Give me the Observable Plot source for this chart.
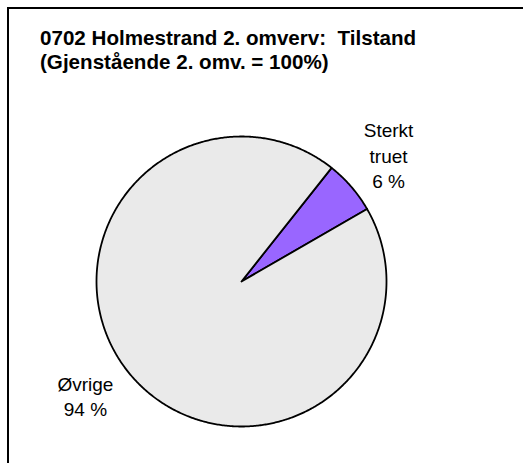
<!DOCTYPE html>
<html><head><meta charset="utf-8">
<script src="https://cdn.jsdelivr.net/npm/d3@7"></script>
<script src="https://cdn.jsdelivr.net/npm/@observablehq/plot@0.6"></script>
<style>
body{margin:0;background:#fff;}
#wrap{position:relative;width:532px;height:463px;overflow:hidden;font-family:"Liberation Sans",Arial,sans-serif;}
#frame{position:absolute;left:7px;top:7px;width:514px;height:470px;border-top:2px solid #000;border-left:2px solid #000;}
#title{position:absolute;left:40px;top:26px;font-weight:bold;font-size:20.6px;line-height:24px;white-space:pre;color:#000;}
#chart{position:absolute;left:0;top:0;}
</style></head><body>
<div id="wrap"><div id="frame"></div><div id="chart"></div><div id="title"></div></div>
<script>
const categories = ["Sterkt truet", "Øvrige"];
const values = [6, 94];
const labelNames = ["Sterkt\ntruet", "Øvrige"];
const labelValues = ["6 %", "94 %"];
const colors = ["#9966FF", "#EAEAEA"];
const titleLines = ["0702 Holmestrand 2. omverv:  Tilstand", "(Gjenstående 2. omv. = 100%)"];
const firstSliceAngle = 38.4; // degrees, clockwise from 12 o'clock

document.getElementById("title").textContent = titleLines.join("\n");

const total = d3.sum(values);
const polys = [];
const labelRows = [];
let a = firstSliceAngle * Math.PI / 180;
categories.forEach((c, i) => {
  const span = values[i] / total * 2 * Math.PI;
  const a0 = a, a1 = a + span;
  polys.push({category: c, x: 0, y: 0});
  const n = Math.max(2, Math.ceil(span / (Math.PI / 360)));
  for (let k = 0; k <= n; k++) {
    const t = a0 + (a1 - a0) * k / n;
    polys.push({category: c, x: Math.sin(t), y: Math.cos(t)});
  }
  polys.push({category: c, x: 0, y: 0});
  const mid = (a0 + a1) / 2;
  labelRows.push({category: c, text: labelNames[i] + "\n" + labelValues[i], x: 1.34 * Math.sin(mid), y: 1.34 * Math.cos(mid)});
  a = a1;
});

const textOpts = {x: "x", y: "y", text: "text", fontSize: 19, lineHeight: 1.32, fill: "#000", textAnchor: "middle"};

const chart = Plot.plot({
  width: 532,
  height: 463,
  marginLeft: 96,
  marginRight: 146,
  marginTop: 136,
  marginBottom: 37,
  x: {domain: [-1, 1], axis: null},
  y: {domain: [-1, 1], axis: null},
  color: {domain: categories, range: colors},
  style: {fontFamily: "Liberation Sans, Arial, sans-serif", background: "transparent", overflow: "visible"},
  marks: [
    Plot.line(polys, {x: "x", y: "y", z: "category", fill: "category", stroke: "#000", strokeWidth: 1.8, strokeLinejoin: "round", curve: "linear"}),
    Plot.text(labelRows.filter(d => d.x >= 0), textOpts),
    Plot.text(labelRows.filter(d => d.x < 0), {...textOpts, dx: -9, dy: -13})
  ]
});
document.getElementById("chart").appendChild(chart);
</script>
</body></html>
